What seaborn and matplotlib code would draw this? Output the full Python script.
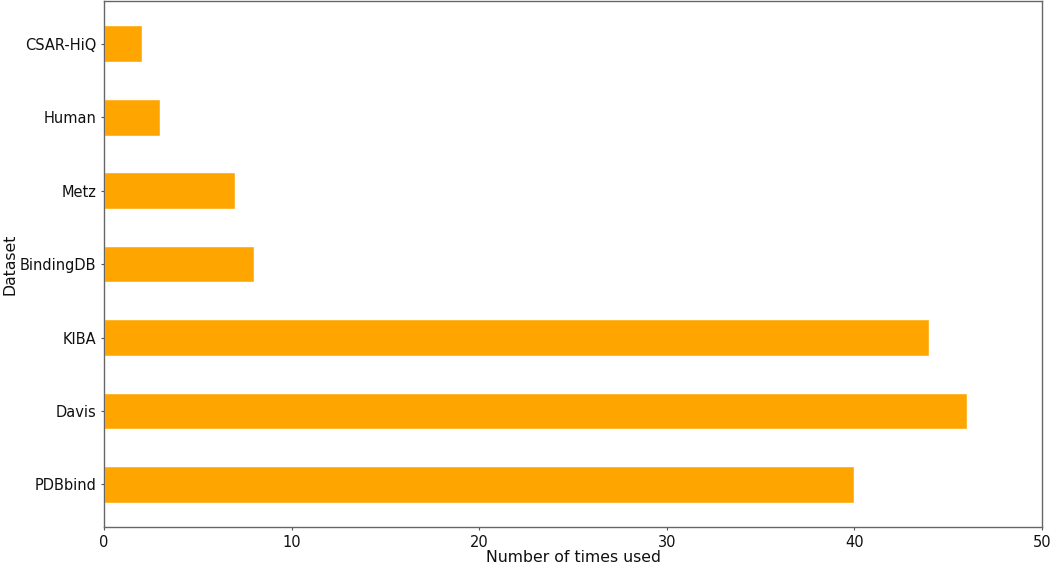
import matplotlib
matplotlib.use("Agg")
import matplotlib.pyplot as plt
import seaborn as sns
import pandas as pd

datasets = ["CSAR-HiQ", "Human", "Metz", "BindingDB", "KIBA", "Davis", "PDBbind"]
counts = [2, 3, 7, 8, 44, 46, 40]
xticks = [0, 10, 20, 30, 40, 50]

sns.set_style("white")
plt.rcParams['font.family'] = ['DejaVu Sans']

df = pd.DataFrame({"Dataset": datasets, "Count": counts})

fig = plt.figure(figsize=(10.52, 5.67), dpi=100)
ax = fig.add_axes([0.0989, 0.0705, 0.8916, 0.9275])
sns.barplot(data=df, x="Count", y="Dataset", order=datasets, color="#FFA500",
            saturation=1, width=0.5, ax=ax)
ax.set_xlim(0, 50)
ax.set_ylim(6.58, -0.58)
ax.set_xticks(xticks)
ax.set_xticklabels([str(t) for t in xticks], fontsize=10.5, color="#111111")
ax.tick_params(axis='y', labelsize=10.5, labelcolor="#111111")
ax.tick_params(axis='both', length=2.5, width=0.8, color="#555555", bottom=True, left=True, pad=3)
ax.set_xlabel("Number of times used", fontsize=11.3, labelpad=0.5, color="#111111")
ax.set_ylabel("Dataset", fontsize=11.3, labelpad=2, color="#111111")
for s in ax.spines.values():
    s.set_color("#666666")
    s.set_linewidth(1.0)
fig.savefig("out.png", dpi=100)
